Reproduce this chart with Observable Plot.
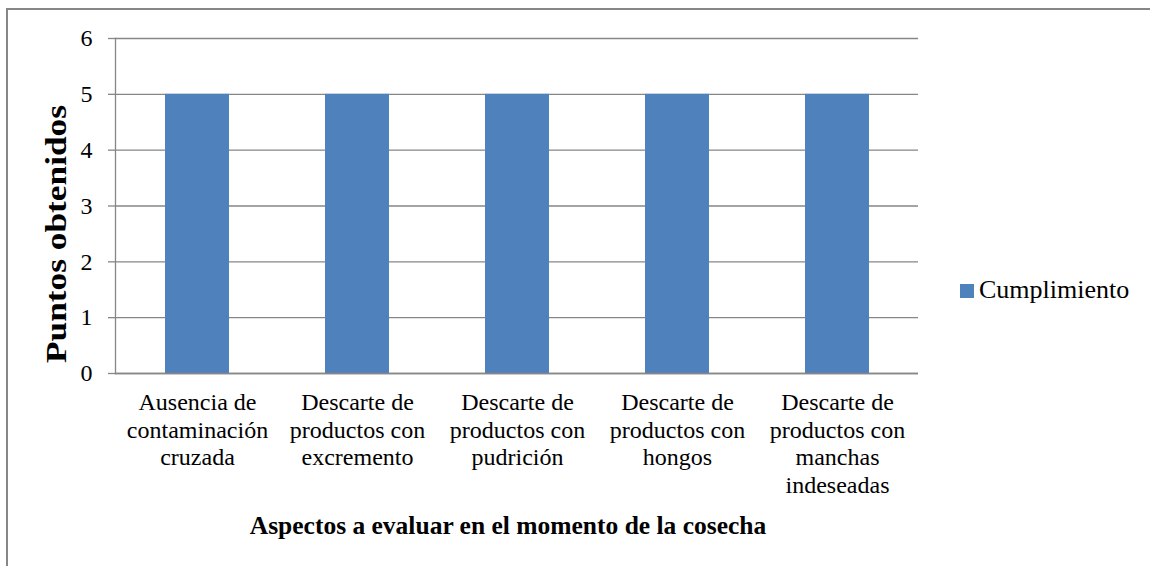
<!DOCTYPE html>
<html>
<head>
<meta charset="utf-8">
<script src="https://cdn.jsdelivr.net/npm/d3@7"></script>
<script src="https://cdn.jsdelivr.net/npm/@observablehq/plot@0.6"></script>
<style>
  html, body { margin: 0; padding: 0; background: #fff; }
  body { width: 1150px; height: 566px; overflow: hidden; position: relative; font-family: "Liberation Serif", "Times New Roman", serif; }
  #frame { position: absolute; left: 6px; top: 8px; width: 1300px; height: 700px; border-left: 2px solid #878787; border-top: 2px solid #878787; }
  #chart { position: absolute; left: 0; top: 0; }
  #legend { position: absolute; left: 960px; top: 275px; display: flex; align-items: center; font-size: 26px; color: #000; white-space: nowrap; }
  #legend .sw { width: 14px; height: 14px; background: #4F81BD; margin-right: 5px; margin-top: 2px; }
</style>
</head>
<body>
<div id="frame"></div>
<div id="chart"></div>
<div id="legend"><div class="sw"></div><span>Cumplimiento</span></div>
<script>
const categories = [
  "Ausencia de contaminación cruzada",
  "Descarte de productos con excremento",
  "Descarte de productos con pudrición",
  "Descarte de productos con hongos",
  "Descarte de productos con manchas indeseadas"
];
const tickLabels = [
  "Ausencia de\ncontaminación\ncruzada",
  "Descarte de\nproductos con\nexcremento",
  "Descarte de\nproductos con\npudrición",
  "Descarte de\nproductos con\nhongos",
  "Descarte de\nproductos con\nmanchas\nindeseadas"
];
const values = [5, 5, 5, 5, 5];
const seriesName = "Cumplimiento";
const yTicks = [0, 1, 2, 3, 4, 5, 6];
const xTitle = "Aspectos a evaluar en el momento de la cosecha";
const yTitle = "Puntos obtenidos";

const data = categories.map((c, i) => ({category: c, value: values[i], series: seriesName}));
const labelOf = new Map(categories.map((c, i) => [c, tickLabels[i]]));

const chart = Plot.plot({
  width: 1150,
  height: 566,
  marginLeft: 115,
  marginRight: 232,
  marginTop: 38,
  marginBottom: 193,
  style: {fontFamily: "'Liberation Serif', 'Times New Roman', serif", fontSize: "24px", background: "transparent", color: "#000", overflow: "visible"},
  x: {domain: categories, paddingInner: 0.6, paddingOuter: 0.3, label: null},
  y: {domain: [0, 6], label: null},
  marks: [
    Plot.gridY(yTicks, {stroke: "#868686", strokeOpacity: 1, strokeWidth: 1.3}),
    Plot.barY(data, {x: "category", y: "value", fill: "#4F81BD"}),
    Plot.ruleY([0], {stroke: "#868686", strokeWidth: 1.3}),
    Plot.frame({anchor: "left", stroke: "#868686", strokeWidth: 1.3}),
    Plot.axisY({ticks: yTicks, tickSize: 7, stroke: "#868686", strokeWidth: 1.3, tickPadding: 16, tickFormat: d => String(d), label: null, fill: "#000"}),
    Plot.axisX({tickSize: 0, tickPadding: 17, lineHeight: 1.15, tickFormat: d => labelOf.get(d), label: null, fill: "#000"}),
    Plot.text([yTitle], {frameAnchor: "left", rotate: -90, textAnchor: "middle", lineAnchor: "middle",
      dx: -59, dy: 28, fontSize: 29, fontWeight: "bold", fill: "#000"}),
    Plot.text([xTitle], {frameAnchor: "bottom", textAnchor: "middle", lineAnchor: "middle",
      dx: -9, dy: 152, fontSize: 25.5, fontWeight: "bold", fill: "#000"})
  ]
});
// stretch the y title along its length, as in the reference
d3.select(chart).selectAll("text").filter(function() { return this.textContent === yTitle; })
  .attr("textLength", 258).attr("lengthAdjust", "spacingAndGlyphs");
document.getElementById("chart").appendChild(chart);
</script>
</body>
</html>
